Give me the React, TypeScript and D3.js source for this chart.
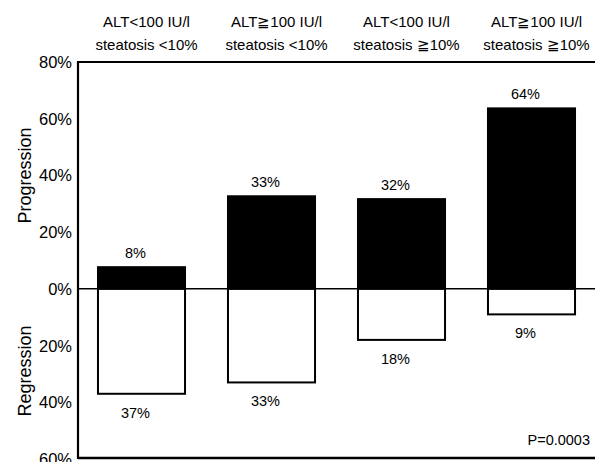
import React from "react";
import * as d3 from "d3";

const headerLine1 = ["ALT<100 IU/l", "ALT\u2267100 IU/l", "ALT<100 IU/l", "ALT\u2267100 IU/l"];
const headerLine2 = ["steatosis <10%", "steatosis <10%", "steatosis \u226710%", "steatosis \u226710%"];
const categories = ["g1", "g2", "g3", "g4"];
const progression = [8, 33, 32, 64];
const regression = [37, 33, 18, 9];
const yTicks = [80, 60, 40, 20, 0, -20, -40, -60];
const pValue = "P=0.0003";

const W = 595;
const H = 462;
const FONT = "'Liberation Sans', Arial, Helvetica, sans-serif";

export default function App() {
  const x = d3.scaleBand<string>().domain(categories).range([76.5, 596.5]).paddingInner(0.315).paddingOuter(0.1575);
  const y = d3.scaleLinear().domain([-60, 80]).range([459, 62]);
  const left = 78;
  const y0 = y(0);
  const bw = x.bandwidth();

  return (
    <svg width={W} height={H} style={{ position: "absolute", left: 0, top: 0, background: "#fff" }} fontFamily={FONT}>
      <rect x={0} y={0} width={W} height={H} fill="#fff" />
      {/* headers */}
      {categories.map((c, i) => {
        const cx = (x(c) as number) + bw / 2 + 5;
        return (
          <g key={"h" + c}>
            <text x={cx} y={27} textAnchor="middle" fontSize={15} fill="#000">{headerLine1[i]}</text>
            <text x={cx} y={50} textAnchor="middle" fontSize={15} fill="#000">{headerLine2[i]}</text>
          </g>
        );
      })}
      {/* bars */}
      {categories.map((c, i) => {
        const bx = x(c) as number;
        return (
          <g key={"b" + c}>
            <rect x={bx} y={y(progression[i])} width={bw} height={y0 - y(progression[i])} fill="#000" />
            <rect x={bx + 1} y={y0} width={bw - 2} height={y(-regression[i]) - y0} fill="#fff" stroke="#000" strokeWidth={2} />
            <text x={bx + bw / 2 - 6} y={y(progression[i]) - 8} textAnchor="middle" fontSize={14.5} fill="#000">{progression[i] + "%"}</text>
            <text x={bx + bw / 2 - 6} y={y(-regression[i]) + 24} textAnchor="middle" fontSize={14.5} fill="#000">{regression[i] + "%"}</text>
          </g>
        );
      })}
      {/* zero line */}
      <line x1={left} x2={W} y1={y0} y2={y0} stroke="#000" strokeWidth={1.5} />
      {/* frame */}
      <line x1={left} x2={left} y1={y(80) - 1} y2={y(-60)} stroke="#000" strokeWidth={2.2} />
      <line x1={left} x2={W} y1={y(80)} y2={y(80)} stroke="#000" strokeWidth={2} />
      <line x1={left} x2={W} y1={458} y2={458} stroke="#000" strokeWidth={2.5} />
      {/* y tick labels */}
      {yTicks.map((t) => (
        <text key={"t" + t} x={72} y={y(t)} dy="0.36em" textAnchor="end" fontSize={16.5} fill="#000">{Math.abs(t) + "%"}</text>
      ))}
      {/* axis titles */}
      <text transform={`translate(31,${y(40)}) rotate(-90)`} textAnchor="middle" fontSize={18} fill="#000">Progression</text>
      <text transform={`translate(31,${y(-29)}) rotate(-90)`} textAnchor="middle" fontSize={18} fill="#000">Regression</text>
      <text x={590} y={445} textAnchor="end" fontSize={14.5} fill="#000">{pValue}</text>
    </svg>
  );
}
